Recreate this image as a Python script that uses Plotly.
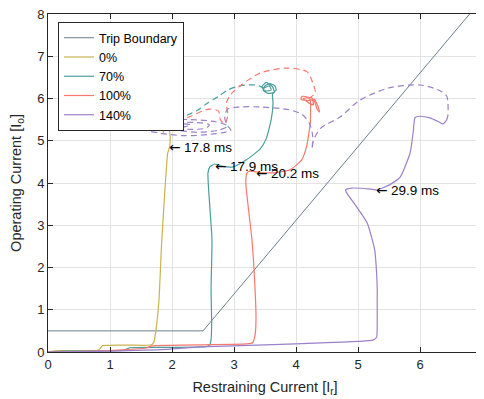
import plotly.graph_objects as go

# ---------------- data ----------------
tb_x = [0, 2.5, 6.8]
tb_y = [0.5, 0.5, 8.0]

# 0% remanence
y0_solid_x = [0, 0.1, 0.8, 0.84, 0.88, 1.6, 1.68, 1.71, 1.74, 1.79, 1.83, 1.88, 1.93, 1.96, 1.97, 1.95, 1.9]
y0_solid_y = [0, 0.03, 0.04, 0.08, 0.15, 0.16, 0.18, 0.25, 0.5, 1.23, 2.5, 3.7, 4.7, 4.85, 5.1, 5.3, 5.5]
y0_dash_x = [1.9, 1.88, 1.86, 1.89, 1.85, 1.88, 1.86, 1.88, 1.87, 1.88]
y0_dash_y = [5.5, 5.7, 5.18, 5.62, 5.22, 5.55, 5.28, 5.48, 5.33, 5.4]

# 70% remanence
t70_solid_x = [0, 0.3, 1.2, 1.27, 1.32, 2.0, 2.5, 2.56, 2.61, 2.63, 2.64, 2.63, 2.645, 2.61, 2.58, 2.61, 2.69, 2.8, 2.98,
               3.2, 3.42, 3.52, 3.6, 3.63, 3.62,
               3.68, 3.66, 3.58, 3.5, 3.47, 3.55, 3.65, 3.62, 3.52, 3.45, 3.5, 3.6, 3.57, 3.49]
t70_solid_y = [0, 0.02, 0.04, 0.07, 0.10, 0.11, 0.12, 0.13, 0.17, 0.3, 0.7, 1.47, 2.65, 3.43, 4.24, 4.38, 4.45, 4.4, 4.38,
               4.55, 4.8, 5.05, 5.5, 5.9, 6.1,
               6.2, 6.3, 6.35, 6.3, 6.2, 6.12, 6.15, 6.28, 6.38, 6.28, 6.18, 6.2, 6.3, 6.25]
t70_dash_x = [3.49, 3.34, 3.1, 2.9, 2.74, 2.58, 2.42, 2.18, 2.0, 1.92]
t70_dash_y = [6.25, 6.32, 6.3, 6.2, 6.04, 5.9, 5.73, 5.56, 5.42, 5.35]

# 100% remanence
r100_solid_x = [0, 0.5, 1.2, 1.6, 1.66, 1.75, 2.5, 3.2, 3.3, 3.34, 3.355, 3.34, 3.29, 3.23, 3.19, 3.21, 3.26, 3.37, 3.63,
                3.9, 4.09, 4.17, 4.23, 4.23,
                4.2, 4.1, 4.08, 4.2, 4.3, 4.33, 4.37, 4.38, 4.34, 4.3, 4.25, 4.12, 4.2, 4.28, 4.27, 4.2]
r100_solid_y = [0, 0.01, 0.05, 0.10, 0.14, 0.15, 0.17, 0.19, 0.22, 0.4, 0.8, 1.47, 2.65, 3.43, 4.0, 4.24, 4.28, 4.26, 4.24,
                4.31, 4.54, 4.86, 5.42, 5.96,
                6.03, 6.05, 5.98, 5.95, 5.98, 5.9, 5.75, 5.68, 5.75, 5.92, 6.02, 6.0, 5.9, 5.85, 5.95, 6.0]
r100_dash_x = [4.2, 4.31, 4.27, 4.18, 3.85, 3.42, 3.1, 2.95, 2.88, 2.9, 2.85, 2.78, 2.75, 2.6, 2.3, 2.05, 1.95]
r100_dash_y = [6.0, 6.13, 6.37, 6.63, 6.72, 6.6, 6.3, 6.1, 5.9, 5.6, 5.4, 5.5, 5.7, 5.75, 5.58, 5.42, 5.35]

# 140% remanence
p140_solid_x = [0, 1.0, 1.9, 2.45, 3.5, 4.5, 5.0, 5.24, 5.3, 5.31, 5.31, 5.31, 5.3, 5.27, 5.15, 4.98, 4.82, 4.8, 4.9, 5.1,
                5.31, 5.5, 5.68, 5.84, 5.89, 5.92, 6.0, 6.16, 6.3, 6.37, 6.43]
p140_solid_y = [0, 0.02, 0.06, 0.12, 0.17, 0.22, 0.25, 0.28, 0.35, 0.7, 1.07, 1.5, 1.87, 2.41, 3.05, 3.43, 3.76, 3.84, 3.88, 3.87,
                3.84, 3.95, 4.14, 4.71, 5.2, 5.55, 5.58, 5.54, 5.45, 5.4, 5.49]
p140_dash_x = [6.43, 6.45, 6.45, 6.43, 6.3, 6.0, 5.5, 5.03, 4.71, 4.4, 4.28, 4.26,
               4.27, 4.22, 4.1, 3.9, 3.42, 3.1, 2.9, 2.85, 2.9, 2.95, 2.85, 2.6, 2.2, 1.8, 1.5, 1.55, 1.9, 2.3, 2.7, 2.9,
               2.75, 2.4, 2.1, 1.85, 2.0, 2.4, 2.6, 2.55, 2.3, 2.05, 1.95, 2.1, 2.3, 2.2, 2.0]
p140_dash_y = [5.49, 5.6, 5.9, 6.06, 6.2, 6.32, 6.25, 5.96, 5.56, 5.3, 5.0, 4.8,
               5.1, 5.4, 5.62, 5.73, 5.8, 5.8, 5.75, 5.55, 5.35, 5.25, 5.2, 5.15, 5.12, 5.18, 5.3, 5.42, 5.5, 5.5, 5.45, 5.35,
               5.25, 5.2, 5.25, 5.33, 5.42, 5.43, 5.38, 5.3, 5.27, 5.3, 5.35, 5.4, 5.38, 5.33, 5.34]

ann_x = [1.97, 2.71, 3.37, 5.31]
ann_y = [4.85, 4.40, 4.24, 3.83]
ann_text = ["17.8 ms", "17.9 ms", "20.2 ms", "29.9 ms"]

x_ticks = [0, 1, 2, 3, 4, 5, 6, 7]
y_ticks = [0, 1, 2, 3, 4, 5, 6, 7, 8]

# ---------------- style ----------------
C_TB = "#6b7d8f"
C0 = "#c9b350"
C70 = "#4a9e9b"
C100 = "#f8786b"
C140 = "#9b80cb"
FONT = "Liberation Sans, Arial, sans-serif"
DASH = "6px,4px"

fig = go.Figure()
fig.add_trace(go.Scatter(x=tb_x, y=tb_y, mode="lines", name="Trip Boundary",
                         line=dict(color=C_TB, width=1)))

series = [
    ("0%", C0, y0_solid_x, y0_solid_y, y0_dash_x, y0_dash_y),
    ("70%", C70, t70_solid_x, t70_solid_y, t70_dash_x, t70_dash_y),
    ("100%", C100, r100_solid_x, r100_solid_y, r100_dash_x, r100_dash_y),
    ("140%", C140, p140_solid_x, p140_solid_y, p140_dash_x, p140_dash_y),
]
for name, col, sx, sy, dx, dy in series:
    fig.add_trace(go.Scatter(x=sx, y=sy, mode="lines", name=name, legendgroup=name,
                             line=dict(color=col, width=1.2, shape="spline", smoothing=0.5)))
for name, col, sx, sy, dx, dy in series:
    fig.add_trace(go.Scatter(x=dx, y=dy, mode="lines", name=name, legendgroup=name, showlegend=False,
                             line=dict(color=col, width=1.2, dash=DASH, shape="spline", smoothing=0.8)))

for xa, ya, t in zip(ann_x, ann_y, ann_text):
    fig.add_annotation(x=xa, y=ya, xref="x", yref="y",
                       text='<span style="font-family:DejaVu Sans">\u2190</span> ' + t, showarrow=False,
                       xanchor="left", yanchor="middle", xshift=-3,
                       font=dict(family=FONT, size=13.5, color="#000000"))

axis_common = dict(showgrid=True, gridcolor="#e3e3e3", gridwidth=1, zeroline=False,
                   showline=True, linecolor="#262626", linewidth=1, mirror="ticks",
                   ticks="inside", ticklen=5, tickcolor="#262626",
                   ticklabeloverflow="allow",
                   tickfont=dict(family=FONT, size=13, color="#262626"))

# the page body adds an 8px offset; margins compensate so the plot lands where the reference has it
fig.update_layout(
    width=484, height=399,
    margin=dict(l=40, r=10, t=6, b=55),
    paper_bgcolor="white", plot_bgcolor="white",
    font=dict(family=FONT, color="#262626"),
    showlegend=True,
    legend=dict(x=0.023, y=0.976, xanchor="left", yanchor="top",
                bgcolor="white", bordercolor="#262626", borderwidth=1,
                font=dict(family=FONT, size=12.5, color="#000000"),
                tracegroupgap=0, itemwidth=30),
    xaxis=dict(range=[0, 7], tickvals=x_ticks, automargin="bottom",
               title=dict(text="Restraining Current [I<sub>r</sub>]", font=dict(family=FONT, size=14.5, color="#262626"),
                          standoff=11),
               **axis_common),
    yaxis=dict(range=[0, 8], tickvals=y_ticks, automargin="left",
               title=dict(text="Operating Current [I<sub>o</sub>]", font=dict(family=FONT, size=14.5, color="#262626"),
                          standoff=13),
               **axis_common),
)

fig.write_html("out.html")
